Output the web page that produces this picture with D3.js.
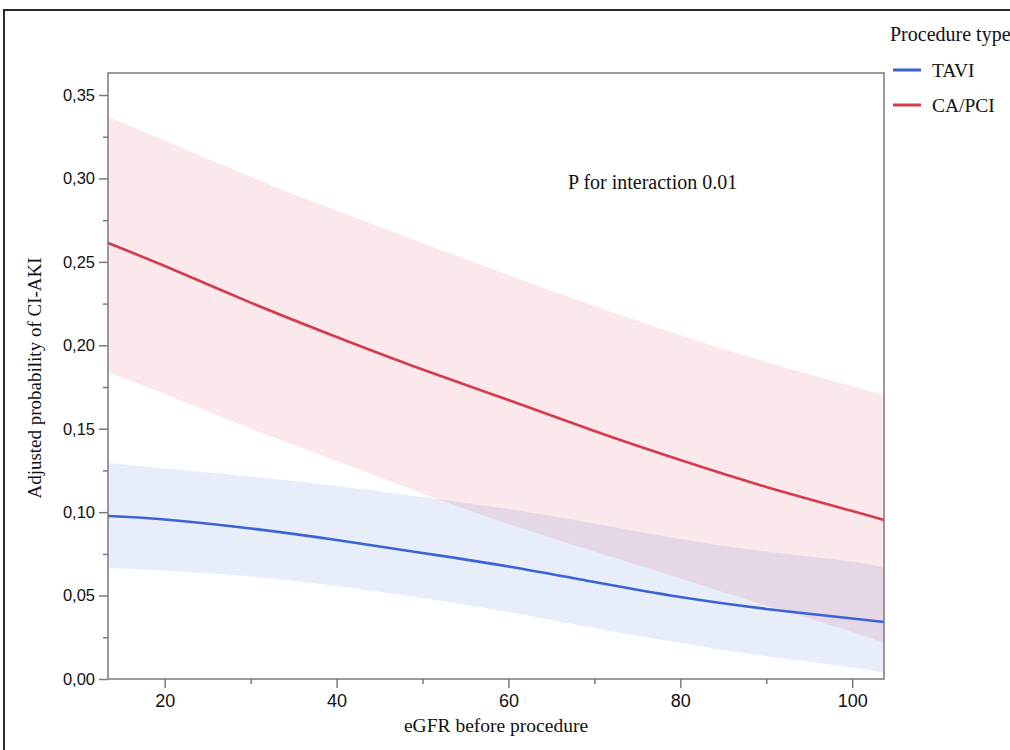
<!DOCTYPE html>
<html>
<head>
<meta charset="utf-8">
<script src="https://cdn.jsdelivr.net/npm/d3@7/dist/d3.min.js"></script>
<style>
  html, body { margin: 0; padding: 0; background: #fff; }
  svg { display: block; }
  .tick text { font-family: "Liberation Sans", Arial, sans-serif; fill: #111; }
  .serif { font-family: "Liberation Serif", "Times New Roman", serif; fill: #111; }
</style>
</head>
<body>
<div id="chart"></div>
<script>
// eGFR points the curves were read at
var egfr = [13.4, 20, 30, 40, 50, 60, 70, 80, 90, 100, 103.7];

// TAVI: estimate and 95% band
var taviFit   = [0.0977, 0.0956, 0.0902, 0.0833, 0.0755, 0.0674, 0.0581, 0.0491, 0.0420, 0.0363, 0.0342];
var taviUpper = [0.1294, 0.1262, 0.1214, 0.1157, 0.1091, 0.1019, 0.0932, 0.0839, 0.0764, 0.0704, 0.0665];
var taviLower = [0.0665, 0.0650, 0.0614, 0.0557, 0.0485, 0.0402, 0.0306, 0.0216, 0.0138, 0.0069, 0.0036];

// CA/PCI: estimate and 95% band
var pciFit   = [0.2613, 0.2475, 0.2256, 0.2050, 0.1855, 0.1672, 0.1486, 0.1312, 0.1151, 0.1007, 0.0953];
var pciUpper = [0.3370, 0.3227, 0.3010, 0.2808, 0.2613, 0.2421, 0.2235, 0.2062, 0.1900, 0.1755, 0.1702];
var pciLower = [0.1840, 0.1708, 0.1501, 0.1306, 0.1112, 0.0929, 0.0764, 0.0602, 0.0440, 0.0282, 0.0216];

var xTicks = [20, 40, 60, 80, 100];
var yTicks = [0, 0.05, 0.10, 0.15, 0.20, 0.25, 0.30, 0.35];

var seriesNames = ["TAVI", "CA/PCI"];
var lineColors = ["#3b63d6", "#d23c4e"];
var bandColors = ["#4169d8", "#d9435a"];

var W = 1010, H = 750;
var margin = { left: 108, top: 73, right: 126, bottom: 71 };
var innerW = W - margin.left - margin.right,
    innerH = H - margin.top - margin.bottom;

var svg = d3.select("#chart").append("svg")
    .attr("width", W)
    .attr("height", H);

// outer frame of the figure (runs off the right and bottom edges)
svg.append("rect")
    .attr("x", 4).attr("y", 10)
    .attr("width", W + 20).attr("height", H + 20)
    .attr("fill", "none")
    .attr("stroke", "#2a2a2a")
    .attr("stroke-width", 2);

var g = svg.append("g")
    .attr("transform", "translate(" + margin.left + "," + margin.top + ")");

var x = d3.scaleLinear()
    .domain([13.4, 103.7])
    .range([0, innerW]);

var y = d3.scaleLinear()
    .domain([0, 0.3632])
    .range([innerH, 0]);

function rows(fit, lo, hi) {
    return egfr.map(function(e, i) { return { x: e, fit: fit[i], lo: lo[i], hi: hi[i] }; });
}
var data = [rows(taviFit, taviLower, taviUpper), rows(pciFit, pciLower, pciUpper)];

var area = d3.area()
    .curve(d3.curveNatural)
    .x(function(d) { return x(d.x); })
    .y0(function(d) { return y(d.lo); })
    .y1(function(d) { return y(d.hi); });

var line = d3.line()
    .curve(d3.curveNatural)
    .x(function(d) { return x(d.x); })
    .y(function(d) { return y(d.fit); });

// bands first, then lines
data.forEach(function(s, i) {
    g.append("path")
        .datum(s)
        .attr("d", area)
        .attr("fill", bandColors[i])
        .attr("fill-opacity", 0.12);
});
data.forEach(function(s, i) {
    g.append("path")
        .datum(s)
        .attr("d", line)
        .attr("fill", "none")
        .attr("stroke", lineColors[i])
        .attr("stroke-width", 2.6);
});

// plot box
g.append("rect")
    .attr("width", innerW).attr("height", innerH)
    .attr("fill", "none")
    .attr("stroke", "#7a7a7a")
    .attr("stroke-width", 1.5);

// minor ticks
var xMinor = g.append("g")
    .attr("transform", "translate(0," + innerH + ")")
    .call(d3.axisBottom(x).tickValues([30, 50, 70, 90]).tickSize(5).tickFormat(""));
var yMinor = g.append("g")
    .call(d3.axisLeft(y).tickValues([0.025, 0.075, 0.125, 0.175, 0.225, 0.275, 0.325]).tickSize(5).tickFormat(""));

// major ticks + labels
var xAxis = g.append("g")
    .attr("transform", "translate(0," + innerH + ")")
    .call(d3.axisBottom(x).tickValues(xTicks).tickSize(9).tickPadding(6).tickFormat(d3.format("d")));
var yAxis = g.append("g")
    .call(d3.axisLeft(y).tickValues(yTicks).tickSize(9).tickPadding(4)
        .tickFormat(function(d) { return d3.format(".2f")(d).replace(".", ","); }));

[xMinor, yMinor, xAxis, yAxis].forEach(function(a) {
    a.select(".domain").remove();
    a.selectAll(".tick line").attr("stroke", "#7a7a7a").attr("stroke-width", 1.5);
});
xAxis.selectAll(".tick text").style("font-size", "18px");
yAxis.selectAll(".tick text").style("font-size", "16.5px");

// axis titles
svg.append("text")
    .attr("class", "serif")
    .attr("x", margin.left + innerW / 2)
    .attr("y", 732)
    .attr("text-anchor", "middle")
    .style("font-size", "19.5px")
    .text("eGFR before procedure");

svg.append("text")
    .attr("class", "serif")
    .attr("transform", "translate(41," + 378 + ") rotate(-90)")
    .attr("text-anchor", "middle")
    .style("font-size", "19px")
    .text("Adjusted probability of CI-AKI");

// annotation
svg.append("text")
    .attr("class", "serif")
    .attr("x", 568).attr("y", 189)
    .style("font-size", "20px")
    .text("P for interaction 0.01");

// legend
var legend = svg.append("g").attr("transform", "translate(890,0)");
legend.append("text")
    .attr("class", "serif")
    .attr("x", 0).attr("y", 41)
    .style("font-size", "20px")
    .text("Procedure type");

seriesNames.forEach(function(name, i) {
    var ly = 70 + i * 35;
    legend.append("line")
        .attr("x1", 3).attr("x2", 31)
        .attr("y1", ly).attr("y2", ly)
        .attr("stroke", lineColors[i])
        .attr("stroke-width", 3);
    legend.append("text")
        .attr("class", "serif")
        .attr("x", 42).attr("y", ly + 7)
        .style("font-size", "19.5px")
        .text(name);
});
</script>
</body>
</html>
